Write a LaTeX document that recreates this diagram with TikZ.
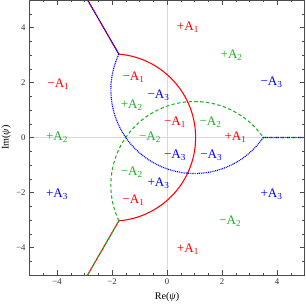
\documentclass[tikz,border=0pt]{standalone}
\usepackage{fontspec}
\setmainfont{Liberation Serif}
\usepackage{xcolor}
\usepackage{tikz}

\definecolor{mred}{rgb}{1,0,0}
\definecolor{mgreen}{rgb}{0.13,0.69,0.13}
\definecolor{mblue}{rgb}{0,0,1}

\tikzset{
  redline/.style={mred, line width=1.1pt},
  greenline/.style={mgreen, line width=1.1pt, dash pattern=on 3.5pt off 2.5pt},
  blueline/.style={mblue, line width=1.2pt, dash pattern=on 1pt off 0.9pt},
  lbl/.style={font=\fontsize{13.5}{15}\selectfont},
  ticklbl/.style={font=\fontsize{9}{10}\selectfont, text=black!80},
}

\begin{document}
\begin{tikzpicture}
    \useasboundingbox (-6.073,-6.055) rectangle (5.055,5);
    \draw[color=gray!30, line width=0.8pt] (-5,0) -- (5,0);
    \draw[color=gray!30, line width=0.8pt] (0,-5) -- (0,5);
    % the three lines, each the red one turned by 120 degrees
    \begin{scope}
        \clip (-5,-5) rectangle (5,5);
        \draw[redline] (-1.75,3.031) arc[start angle=85.28, end angle=-85.28, radius=3.0413];
        \draw[redline] (-1.75,3.031) -- ++(120:3);
        \draw[redline] (-1.75,-3.031) -- ++(240:3);
        \begin{scope}[rotate=120]
            \draw[greenline] (-1.75,3.031) arc[start angle=85.28, end angle=-85.28, radius=3.0413];
            \draw[greenline] (-1.75,3.031) -- ++(120:3);
            \draw[greenline] (-1.75,-3.031) -- ++(240:3);
        \end{scope}
        \begin{scope}[rotate=240]
            \draw[blueline] (-1.75,3.031) arc[start angle=85.28, end angle=-85.28, radius=3.0413];
            \draw[blueline] (-1.75,3.031) -- ++(120:3);
            \draw[blueline] (-1.75,-3.031) -- ++(240:3);
        \end{scope}
    \end{scope}
    % frame and ticks
    \draw[black!70, line width=0.6pt] (-5,-5) rectangle (5,5);
    \foreach \t in {-4.5,-4,...,4.5} {
        \draw[black!70, line width=0.4pt] (\t,-5) -- ++(0,0.09);
        \draw[black!70, line width=0.4pt] (\t,5) -- ++(0,-0.09);
        \draw[black!70, line width=0.4pt] (-5,\t) -- ++(0.09,0);
        \draw[black!70, line width=0.4pt] (5,\t) -- ++(-0.09,0);
    }
    \foreach \t/\s in {-4/−4, -2/−2, 0/0, 2/2, 4/4} {
        \draw[black!70, line width=0.5pt] (\t,-5) -- ++(0,0.17);
        \draw[black!70, line width=0.5pt] (\t,5) -- ++(0,-0.17);
        \draw[black!70, line width=0.5pt] (-5,\t) -- ++(0.17,0);
        \draw[black!70, line width=0.5pt] (5,\t) -- ++(-0.17,0);
        \node[ticklbl, below] at (\t,-5.02) {\s};
        \node[ticklbl, left] at (-5.02,\t) {\s};
    }
    \node[font=\fontsize{10.5}{12}\selectfont] (relbl) at (0,-5.81) {Re(\textit{ψ})};
    \node[font=\fontsize{10.5}{12}\selectfont, rotate=90] (imlbl) at (-5.85,0) {Im(\textit{ψ})};
    % region labels
    \node[lbl, mred] (a1top) at (0.76,4.0) {+A\textsubscript{1}};
    \node[lbl, mgreen] (a2ur) at (2.35,3.0) {+A\textsubscript{2}};
    \node[lbl, mblue] (a3r) at (3.8,2.0) {−A\textsubscript{3}};
    \node[lbl, mred] (a1l) at (-3.95,1.95) {−A\textsubscript{1}};
    \node[lbl, mgreen] (a2l) at (-4.0,0) {+A\textsubscript{2}};
    \node[lbl, mblue] (a3ll) at (-4.0,-2.05) {+A\textsubscript{3}};
    \node[lbl, mblue] (a3lr) at (3.8,-2.05) {+A\textsubscript{3}};
    \node[lbl, mgreen] (a2lr) at (2.3,-3.05) {−A\textsubscript{2}};
    \node[lbl, mred] (a1bot) at (0.76,-4.05) {+A\textsubscript{1}};
    \node[lbl, mred] (a1in) at (-1.22,2.2) {−A\textsubscript{1}};
    \node[lbl, mgreen] (a2in) at (-1.28,1.17) {+A\textsubscript{2}};
    \node[lbl, mblue] (a3in) at (-0.31,1.54) {−A\textsubscript{3}};
    \node[lbl, mred] (a1c) at (0.29,0.57) {−A\textsubscript{1}};
    \node[lbl, mgreen] (a2c) at (1.58,0.57) {−A\textsubscript{2}};
    \node[lbl, mred] (a1r) at (2.49,0) {+A\textsubscript{1}};
    \node[lbl, mgreen] (a2cl) at (-0.62,0) {−A\textsubscript{2}};
    \node[lbl, mblue] (a3c) at (0.29,-0.64) {−A\textsubscript{3}};
    \node[lbl, mblue] (a3cr) at (1.61,-0.64) {−A\textsubscript{3}};
    \node[lbl, mgreen] (a2low) at (-1.28,-1.25) {−A\textsubscript{2}};
    \node[lbl, mblue] (a3low) at (-0.31,-1.67) {+A\textsubscript{3}};
    \node[lbl, mred] (a1low) at (-1.22,-2.28) {−A\textsubscript{1}};
\end{tikzpicture}
\end{document}
